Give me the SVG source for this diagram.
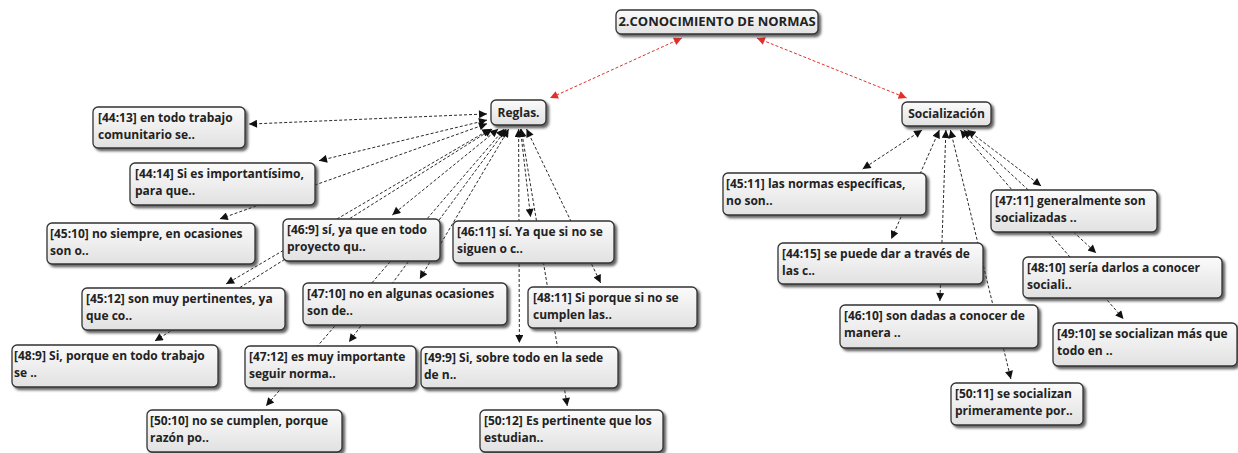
<svg xmlns="http://www.w3.org/2000/svg" width="1238" height="453" viewBox="0 0 1238 453">
<style>
.box{fill:url(#g);stroke:#333;stroke-width:1.3;filter:url(#sh)}
.t{font-family:"Open Sans","Noto Sans","Liberation Sans",sans-serif;font-weight:700;font-size:12px;fill:#222}
.c{text-anchor:middle}
.ln{fill:none;stroke:#111;stroke-width:0.9;stroke-dasharray:3 2;marker-start:url(#ab);marker-end:url(#ab)}
.rl{fill:none;stroke:#e0302a;stroke-width:1;stroke-dasharray:3 2;marker-start:url(#ar);marker-end:url(#ar)}
</style>
<defs>
<linearGradient id="g" x1="0" y1="0" x2="0" y2="1">
<stop offset="0" stop-color="#fbfbfb"/>
<stop offset="1" stop-color="#e1e1e1"/>
</linearGradient>
<filter id="sh" x="-10%" y="-20%" width="130%" height="160%">
<feDropShadow dx="2.5" dy="2.5" stdDeviation="1.2" flood-color="#333" flood-opacity="0.75"/>
</filter>
<marker id="ab" viewBox="0 0 10 10" refX="10" refY="5" markerWidth="10" markerHeight="8" markerUnits="userSpaceOnUse" orient="auto-start-reverse">
<path d="M0,0 L10,5 L0,10 z" fill="#111"/>
</marker>
<marker id="ar" viewBox="0 0 10 10" refX="10" refY="5" markerWidth="10" markerHeight="8" markerUnits="userSpaceOnUse" orient="auto-start-reverse">
<path d="M0,0 L10,5 L0,10 z" fill="#e0302a"/>
</marker>
</defs>
<rect width="1238" height="453" fill="#fff"/>
<g id="connectors">
<line class="rl" x1="681.9" y1="38" x2="550" y2="98.1"/>
<line class="rl" x1="756.9" y1="38" x2="906.6" y2="98"/>
<line class="ln" x1="487" y1="113.9" x2="249" y2="124.1"/>
<line class="ln" x1="487" y1="120.1" x2="319" y2="160.7"/>
<line class="ln" x1="487" y1="123.7" x2="219.7" y2="219"/>
<line class="ln" x1="498.2" y1="129" x2="392.3" y2="215"/>
<line class="ln" x1="490.4" y1="129" x2="226.1" y2="284"/>
<line class="ln" x1="492.2" y1="129" x2="154.8" y2="341"/>
<line class="ln" x1="508.7" y1="129" x2="419.8" y2="279"/>
<line class="ln" x1="506.3" y1="129" x2="349" y2="342"/>
<line class="ln" x1="504.3" y1="129" x2="266" y2="406"/>
<line class="ln" x1="520.4" y1="129" x2="530.6" y2="217"/>
<line class="ln" x1="526.5" y1="129" x2="600.7" y2="283"/>
<line class="ln" x1="518.6" y1="129" x2="519.4" y2="343"/>
<line class="ln" x1="521.2" y1="129" x2="567.3" y2="406"/>
<line class="ln" x1="922.1" y1="130" x2="862.6" y2="169"/>
<line class="ln" x1="939.4" y1="130" x2="891.3" y2="239"/>
<line class="ln" x1="945.9" y1="130" x2="939.9" y2="301"/>
<line class="ln" x1="950.4" y1="130" x2="1010.9" y2="379"/>
<line class="ln" x1="967.5" y1="130" x2="1041.1" y2="186"/>
<line class="ln" x1="963.7" y1="130" x2="1096.1" y2="253"/>
<line class="ln" x1="960.3" y1="130" x2="1123.5" y2="319"/>
</g>
<g id="n-root"><rect class="box" x="616" y="10" width="202" height="24" rx="5"/><text class="t c" x="717" y="26" style="font-size:13px">2.CONOCIMIENTO DE NORMAS</text></g>
<g id="n-reglas"><rect class="box" x="491" y="100" width="55" height="25" rx="5"/><text class="t c" x="518.5" y="117">Reglas.</text></g>
<g id="n-socializacion"><rect class="box" x="902" y="102" width="89" height="24" rx="5"/><text class="t c" x="946.5" y="118">Socialización</text></g>
<g id="n-44-13"><rect class="box" x="93" y="107" width="152" height="41" rx="5"/><text class="t" x="98" y="122">[44:13] en todo trabajo<tspan x="98" y="139">comunitario se..</tspan></text></g>
<g id="n-44-14"><rect class="box" x="130" y="163" width="185" height="42" rx="5"/><text class="t" x="135" y="178">[44:14] Si es importantísimo,<tspan x="135" y="195">para que..</tspan></text></g>
<g id="n-45-10"><rect class="box" x="47" y="223" width="208" height="41" rx="5"/><text class="t" x="50" y="238">[45:10] no siempre, en ocasiones<tspan x="50" y="255">son o..</tspan></text></g>
<g id="n-46-9"><rect class="box" x="283" y="219" width="157" height="42" rx="5"/><text class="t" x="287" y="234">[46:9] sí, ya que en todo<tspan x="287" y="251">proyecto qu..</tspan></text></g>
<g id="n-46-11"><rect class="box" x="453" y="221" width="161" height="42" rx="5"/><text class="t" x="457" y="236">[46:11] sí. Ya que si no se<tspan x="457" y="253">siguen o c..</tspan></text></g>
<g id="n-45-12"><rect class="box" x="82" y="288" width="203" height="42" rx="5"/><text class="t" x="86" y="303">[45:12] son muy pertinentes, ya<tspan x="86" y="320">que co..</tspan></text></g>
<g id="n-47-10"><rect class="box" x="303" y="283" width="204" height="42" rx="5"/><text class="t" x="307" y="298">[47:10] no en algunas ocasiones<tspan x="307" y="315">son de..</tspan></text></g>
<g id="n-48-11"><rect class="box" x="528" y="287" width="169" height="41" rx="5"/><text class="t" x="533" y="302">[48:11] Si porque si no se<tspan x="533" y="319">cumplen las..</tspan></text></g>
<g id="n-48-9"><rect class="box" x="12" y="345" width="206" height="42" rx="5"/><text class="t" x="14" y="360">[48:9] Si, porque en todo trabajo<tspan x="14" y="377">se ..</tspan></text></g>
<g id="n-47-12"><rect class="box" x="245" y="346" width="171" height="42" rx="5"/><text class="t" x="249" y="361">[47:12] es muy importante<tspan x="249" y="378">seguir norma..</tspan></text></g>
<g id="n-49-9"><rect class="box" x="421" y="347" width="197" height="41" rx="5"/><text class="t" x="424" y="362">[49:9] Si, sobre todo en la sede<tspan x="424" y="379">de n..</tspan></text></g>
<g id="n-50-10"><rect class="box" x="147" y="410" width="195" height="42" rx="5"/><text class="t" x="150" y="425">[50:10] no se cumplen, porque<tspan x="150" y="442">razón po..</tspan></text></g>
<g id="n-50-12"><rect class="box" x="480" y="410" width="183" height="42" rx="5"/><text class="t" x="484" y="425">[50:12] Es pertinente que los<tspan x="484" y="442">estudian..</tspan></text></g>
<g id="n-45-11"><rect class="box" x="723" y="173" width="203" height="42" rx="5"/><text class="t" x="726" y="188">[45:11] las normas específicas,<tspan x="726" y="205">no son..</tspan></text></g>
<g id="n-44-15"><rect class="box" x="778" y="243" width="205" height="41" rx="5"/><text class="t" x="782" y="258">[44:15] se puede dar a través de<tspan x="782" y="275">las c..</tspan></text></g>
<g id="n-47-11"><rect class="box" x="991" y="190" width="166" height="42" rx="5"/><text class="t" x="995" y="205">[47:11] generalmente son<tspan x="995" y="222">socializadas ..</tspan></text></g>
<g id="n-48-10"><rect class="box" x="1023" y="257" width="199" height="41" rx="5"/><text class="t" x="1027" y="272">[48:10] sería darlos a conocer<tspan x="1027" y="289">sociali..</tspan></text></g>
<g id="n-46-10"><rect class="box" x="840" y="305" width="198" height="43" rx="5"/><text class="t" x="844" y="320">[46:10] son dadas a conocer de<tspan x="844" y="337">manera ..</tspan></text></g>
<g id="n-49-10"><rect class="box" x="1053" y="323" width="184" height="43" rx="5"/><text class="t" x="1057" y="338">[49:10] se socializan más que<tspan x="1057" y="355">todo en ..</tspan></text></g>
<g id="n-50-11"><rect class="box" x="951" y="383" width="132" height="42" rx="5"/><text class="t" x="955" y="398">[50:11] se socializan<tspan x="955" y="415">primeramente por..</tspan></text></g>
</svg>
